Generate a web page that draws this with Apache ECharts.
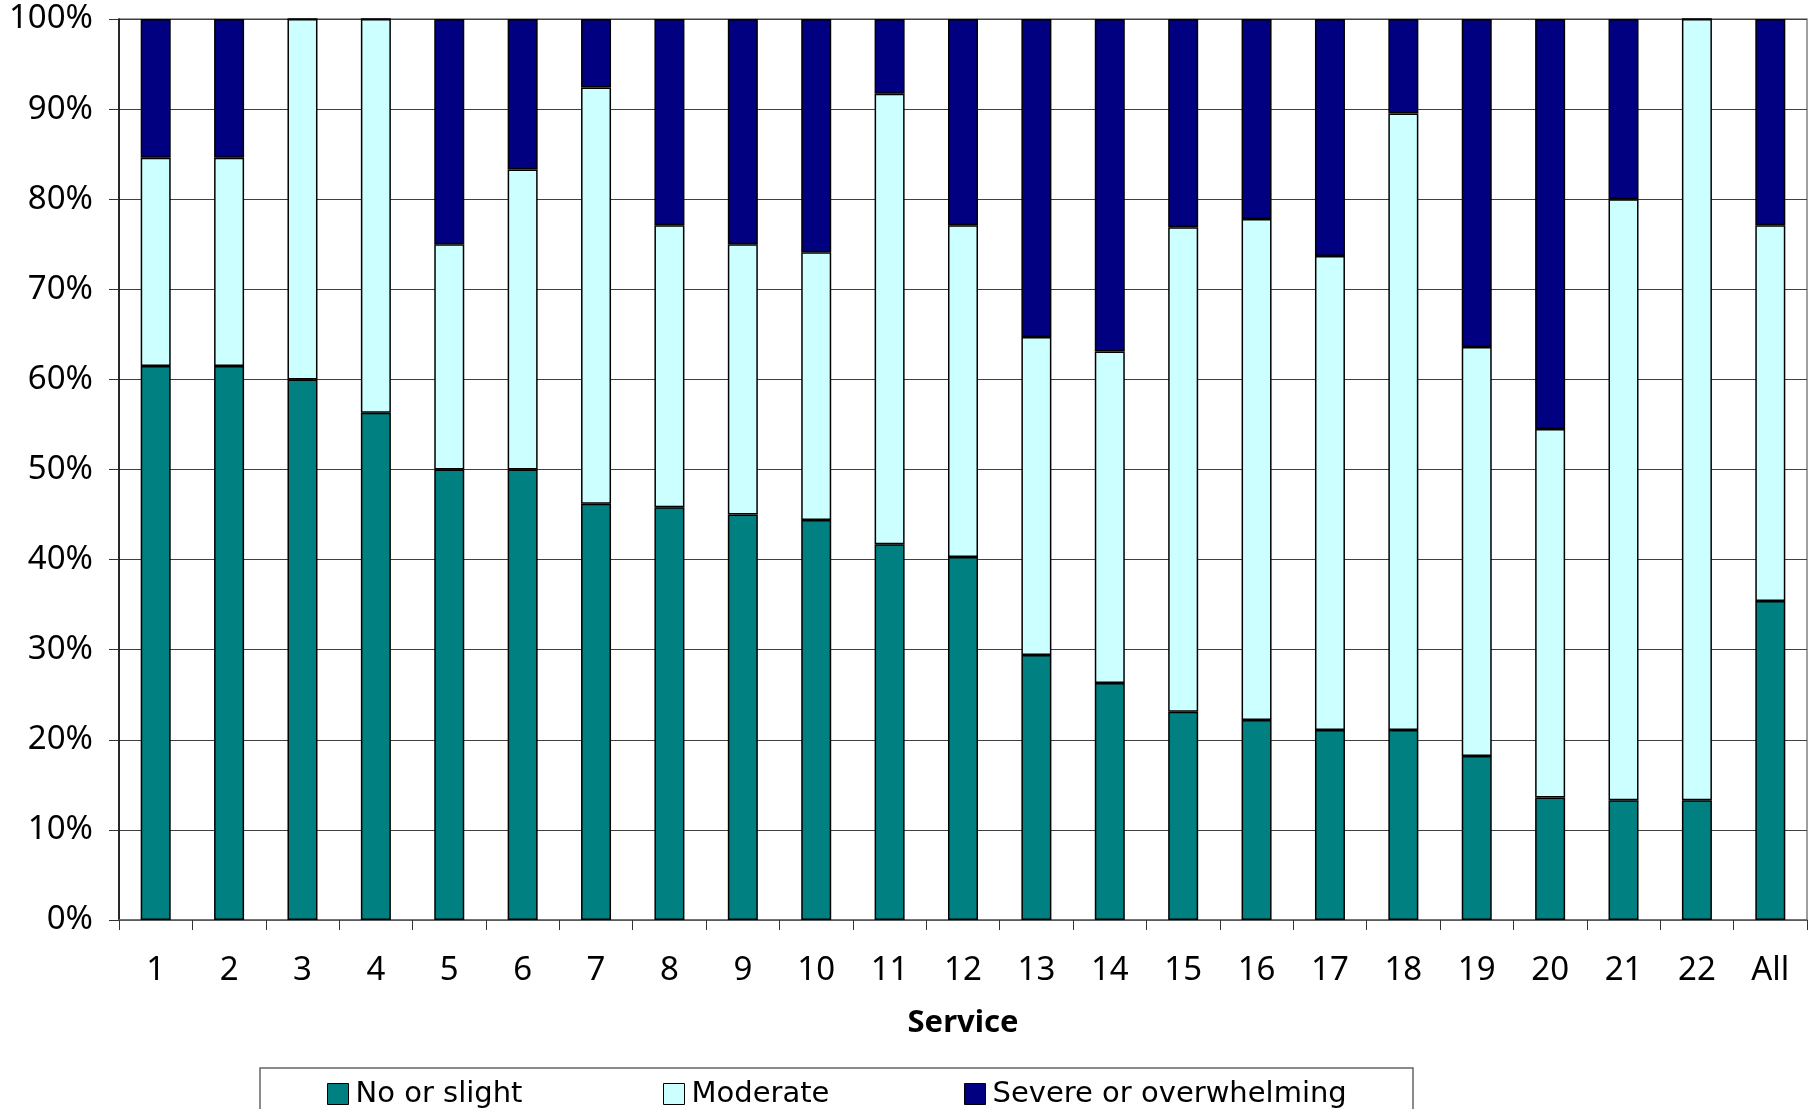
<!DOCTYPE html>
<html>
<head>
<meta charset="utf-8">
<script src="https://cdn.jsdelivr.net/npm/echarts@6/dist/echarts.min.js"></script>
<style>
  html, body { margin: 0; padding: 0; background: #fff; }
  #chart { width: 1809px; height: 1109px; }
</style>
</head>
<body>
<div id="chart"></div>
<script>
// Service categories and the share of each rating (percent of cases)
var categories = ['1','2','3','4','5','6','7','8','9','10','11','12','13','14','15','16','17','18','19','20','21','22','All'];
var noOrSlight = [61.5,61.5,60.0,56.3,50.0,50.0,46.2,45.8,45.0,44.4,41.7,40.3,29.4,26.3,23.1,22.2,21.1,21.1,18.2,13.6,13.3,13.3,35.4];
var moderate   = [23.1,23.1,40.0,43.7,25.0,33.3,46.2,31.3,30.0,29.7,50.0,36.8,35.3,36.8,53.8,55.6,52.6,68.4,45.4,40.9,66.7,86.7,41.7];
var severe     = [15.4,15.4,0,0,25.0,16.7,7.6,22.9,25.0,25.9,8.3,22.9,35.3,36.9,23.1,22.2,26.3,10.5,36.4,45.5,20.0,0,22.9];
var yTicks = [0,10,20,30,40,50,60,70,80,90,100];

var seriesNames = ['No or slight', 'Moderate', 'Severe or overwhelming'];
var seriesColors = ['#008080', '#CCFFFF', '#000080'];

var axisFont = 'Noto Sans';
var legendFont = 'DejaVu Sans';

function barSeries(i, values) {
  return {
    name: seriesNames[i],
    type: 'bar',
    stack: 'total',
    barWidth: 30,
    data: values,
    itemStyle: { color: seriesColors[i], borderColor: '#000', borderWidth: 1.5 }
  };
}

function legendAt(i, x) {
  return {
    data: [seriesNames[i]],
    left: x,
    top: 1078,
    padding: 0,
    icon: 'rect',
    itemWidth: 21,
    itemHeight: 21,
    itemStyle: { borderColor: '#000', borderWidth: 1 },
    textStyle: { fontFamily: legendFont, fontSize: 29, color: '#000', lineHeight: 24, padding: [8, 0, 0, 2] }
  };
}

var chart = echarts.init(document.getElementById('chart'), null, { renderer: 'canvas' });
chart.setOption({
  animation: false,
  backgroundColor: '#fff',
  grid: {
    left: 119, right: 2, top: 19, bottom: 189,
    show: true, borderColor: '#808080', borderWidth: 1.5, backgroundColor: 'transparent'
  },
  legend: [legendAt(0, 327), legendAt(1, 663), legendAt(2, 964)],
  xAxis: {
    type: 'category',
    data: categories,
    boundaryGap: true,
    axisLine: { show: true, lineStyle: { color: '#666', width: 1.5 } },
    axisTick: { show: true, alignWithLabel: false, length: 10, lineStyle: { color: '#333', width: 1 } },
    axisLabel: { fontFamily: axisFont, fontSize: 33, color: '#000', margin: 34 },
    name: 'Service',
    nameLocation: 'middle',
    nameGap: 88,
    nameTextStyle: { fontFamily: axisFont, fontSize: 31, fontWeight: 'bold', color: '#000' }
  },
  yAxis: {
    type: 'value',
    min: yTicks[0],
    max: yTicks[yTicks.length - 1],
    interval: 10,
    axisLine: { show: true, lineStyle: { color: '#000', width: 1.5 } },
    axisTick: { show: true, length: 10, lineStyle: { color: '#333', width: 1 } },
    axisLabel: { fontFamily: axisFont, fontSize: 33, color: '#000', margin: 26, formatter: '{value}%' },
    splitLine: { show: true, lineStyle: { color: '#404040', width: 1.2 } }
  },
  graphic: [{
    type: 'rect',
    shape: { x: 260, y: 1068, width: 1153, height: 80 },
    style: { fill: 'none', stroke: '#666', lineWidth: 1.5 },
    silent: true
  }],
  series: [barSeries(0, noOrSlight), barSeries(1, moderate), barSeries(2, severe)]
});
</script>
</body>
</html>
